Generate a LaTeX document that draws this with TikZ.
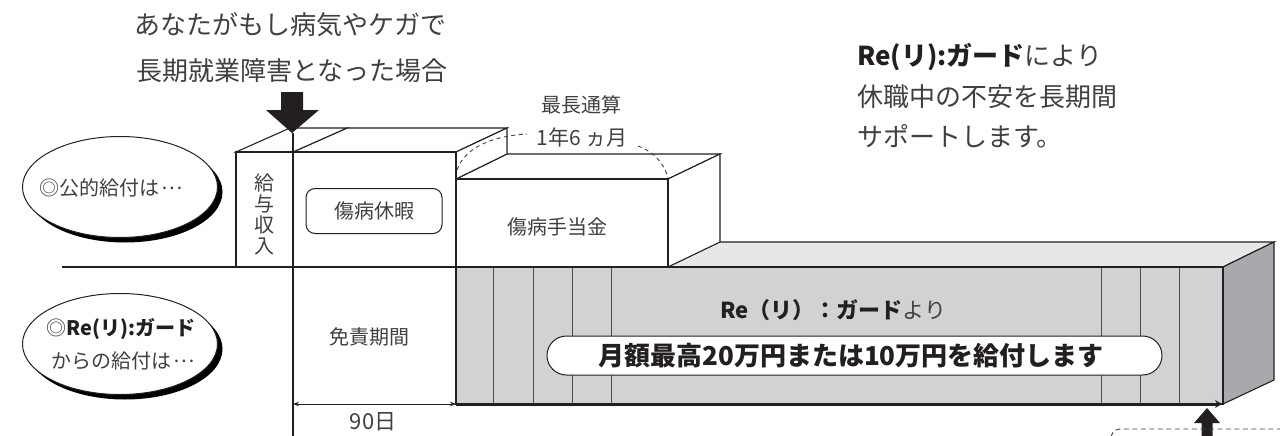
\documentclass[tikz,border=0pt]{standalone}
\usepackage{fontspec}
\setmainfont{Noto Sans CJK JP}
\usetikzlibrary{arrows.meta,shapes.geometric,shadows}
\definecolor{ink}{HTML}{231F20}
\definecolor{txt}{HTML}{404040}
\definecolor{gfront}{HTML}{D1D2D4}
\definecolor{gtop}{HTML}{E6E7E8}
\definecolor{gside}{HTML}{A7A9AC}
\newcommand\fs[1]{\fontsize{#1}{#1}\selectfont}
\newcommand\midell{\kern0.1em\raisebox{0.3em}{…}\kern0.1em}
\begin{document}
\begin{tikzpicture}[x=1pt,y=-1pt,
  txtnode/.style={inner sep=0pt,outer sep=0pt,text=txt},
  edge/.style={draw=ink,line width=1.1pt,line join=miter},
  stripe/.style={draw=ink!80,line width=0.9pt},
  oval/.style={ellipse,draw=ink,line width=1pt,fill=white,minimum width=195pt,minimum height=101pt,inner sep=0pt,
    drop shadow={shadow xshift=5pt,shadow yshift=-5pt,fill=black,opacity=1}},
  pill/.style={draw=ink,line width=1pt,fill=white,rounded corners=19.5pt,minimum width=615pt,minimum height=39pt,inner sep=0pt},
  tag/.style={draw=ink,line width=1pt,fill=white,rounded corners=9pt,minimum width=136pt,minimum height=45pt,inner sep=0pt}
]
\useasboundingbox (0,0) rectangle (1280,436);

% ---- gray box (Re(リ):ガード benefit)
\path[edge,fill=gtop] (456,267) -- (507,242) -- (1274,242) -- (1223,267) -- cycle;
\path[edge,fill=gside] (1223,267) -- (1274,242) -- (1274,380) -- (1223,404) -- cycle;
\path[edge,fill=gfront] (456,267) rectangle (1223,404);
\foreach \sx in {493,533,572,611,1101,1140,1179}{\draw[stripe] (\sx,268) -- (\sx,403);}

% ---- 傷病手当金 box
\path[edge,fill=white] (456,179) -- (507,154) -- (720,154) -- (668,179) -- cycle;
\path[edge,fill=white] (668,179) -- (720,154) -- (720,242) -- (668,267) -- cycle;
\path[edge,fill=white] (456,179) rectangle (668,267);

% ---- 傷病休暇 box
\path[edge,fill=white] (293,152) -- (347,128) -- (507,128) -- (456,152) -- cycle;
\path[edge,fill=white] (456,152) -- (507,128) -- (507,154) -- (456,179) -- cycle;
\path[edge,fill=white] (293,152) rectangle (456,267);

% ---- 給与収入 box
\path[edge,fill=white] (236,152) -- (290,128) -- (347,128) -- (293,152) -- cycle;
\path[edge,fill=white] (236,152) rectangle (293,267);

% ---- base line
\coordinate (baseL) at (62,267);
\coordinate (baseR) at (456,267);
\draw[edge] (baseL) -- (baseR);
\draw[draw=ink,line width=2pt] (456,267) -- (668,267);

% ---- start line and big arrow
\coordinate (startTop) at (293,133);
\coordinate (startBot) at (293,436);
\draw[edge] (startTop) -- (startBot);
\fill[ink] (281,92) -- (303,92) -- (303,110) -- (319,110) -- (292,133) -- (266,110) -- (281,110) -- cycle;

% ---- dashed span for 1年6ヵ月
\draw[ink!85,line width=0.9pt,dash pattern=on 4pt off 3.5pt] (457,170) .. controls (465,147) and (493,136) .. (527,134);
\draw[ink!85,line width=0.9pt,dash pattern=on 4pt off 3.5pt] (638,146) .. controls (654,152) and (664,163) .. (668,178);

% ---- bottom arrows
\coordinate (payL) at (456,404);
\coordinate (payR) at (1222,404);
\draw[ink,line width=3pt,-{Stealth[length=7pt,width=8pt,open,line width=0.8pt]}] (payL) -- (payR);
\coordinate (dimL) at (293,404);
\coordinate (dimR) at (456,404);
\draw[ink,line width=0.8pt,{Stealth[length=6pt,width=4.5pt]}-{Stealth[length=6pt,width=4.5pt]}] (dimL) -- (dimR);
\fill[ink] (1207,408) -- (1220,423) -- (1212.5,423) -- (1212.5,436) -- (1201.5,436) -- (1201.5,423) -- (1194,423) -- cycle;
\coordinate (dashA) at (1111,437);
\coordinate (dashB) at (1280,429);
\draw[ink!85,line width=0.9pt,dash pattern=on 5pt off 3.5pt] (dashA) .. controls (1113,430) and (1116,429) .. (1122,429) -- (dashB);

% ---- ovals
\node[oval] (pubOval) at (120,187) {};
\node[txtnode,font=\fs{20}] (pubText) at (112,188) {◎公的給付は\midell};
\node[oval] (reOval) at (120,344) {};
\node[txtnode,font=\fs{20}] (reText1) at (121,329) {◎{\color{ink}\bfseries Re(リ):ガード}};
\node[txtnode,font=\fs{20}] (reText2) at (124,361) {からの給付は\midell};

% ---- box labels
\node[txtnode,align=center,font=\fs{20}] (salary) at (264,214) {給\\[1pt]与\\[1pt]収\\[1pt]入};
\node[tag] (leaveTag) at (374,211) {};
\node[txtnode,font=\fs{20}] (leave) at (374,211) {傷病休暇};
\node[txtnode,font=\fs{20}] (sickpay) at (557,227) {傷病手当金};
\node[txtnode,font=\fs{20}] (waiting) at (369,337) {免責期間};
\node[txtnode,font=\fs{22}] (days) at (373,422) {90日};
\node[txtnode,font=\fs{20}] (maxlbl) at (581,105) {最長通算};
\node[txtnode,font=\fs{21}] (maxval) at (582,137) {1年6 ヵ月};

% ---- gray box texts
\node[txtnode,font=\fs{22}] (fromRe) at (833,310) {{\color{ink}\bfseries Re（リ）：ガード}より};
\node[pill] (payPill) at (854.5,355.5) {};
\node[txtnode,text=ink,font=\fs{26}\bfseries] (payText) at (851,356) {月額最高20万円または10万円を給付します};

% ---- headings
\node[txtnode,font=\fs{26}] (head1) at (290,25) {あなたがもし病気やケガで};
\node[txtnode,font=\fs{26}] (head2) at (292,71) {長期就業障害となった場合};
\node[txtnode,anchor=west,font=\fs{26}] (right1) at (857,57) {{\color{ink}\bfseries Re(リ):ガード}により};
\node[txtnode,anchor=west,font=\fs{26}] (right2) at (857,97) {休職中の不安を長期間};
\node[txtnode,anchor=west,font=\fs{26}] (right3) at (857,136) {サポートします。};
\end{tikzpicture}
\end{document}
